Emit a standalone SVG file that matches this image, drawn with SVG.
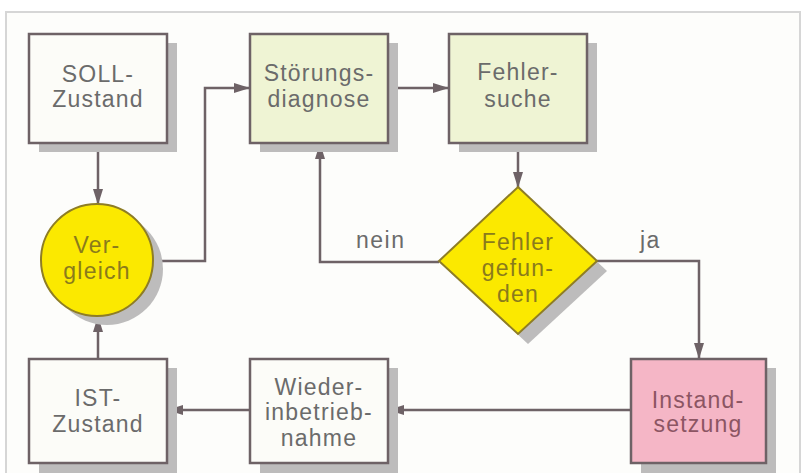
<svg xmlns="http://www.w3.org/2000/svg" width="808" height="473" viewBox="0 0 808 473">
<defs>
<marker id="ah" markerWidth="16" markerHeight="10" refX="15" refY="5" orient="auto" markerUnits="userSpaceOnUse">
<path d="M0,0 L16,5 L0,10 z" fill="#6e6266"/>
</marker>
</defs>
<style>
.sh{fill:#bdbcbc}
.box{stroke:#6e6266;stroke-width:2.5}
.w{fill:#fcfcf8}
.g{fill:#eff4d4}
.p{fill:#f5b6c6}
.y{fill:#fbe900;stroke:#8e7d25;stroke-width:2}
.t{font-family:"Liberation Sans",Arial,sans-serif;font-size:23px;letter-spacing:1.2px;text-anchor:middle;fill:#6b6b6b}
.ty{fill:#8a7b1c}
.tp{fill:#8c5563}
.lbl{font-family:"Liberation Sans",Arial,sans-serif;font-size:23px;letter-spacing:1.5px;fill:#6b6b6b}
.c{fill:none;stroke:#6e6266;stroke-width:2.5}
</style>
<rect x="0" y="0" width="808" height="473" fill="#ffffff"/>
<rect x="6" y="12" width="794" height="470" fill="#fdfdfb" stroke="#d6d6d6" stroke-width="2"/>

<g id="connectors">
<path class="c" d="M98,143 L98,204" marker-end="url(#ah)"/>
<path class="c" d="M98,359 L98,317" marker-end="url(#ah)"/>
<path class="c" d="M154,261 L205,261 L205,88 L249,88" marker-end="url(#ah)"/>
<path class="c" d="M388,88 L448,88" marker-end="url(#ah)"/>
<path class="c" d="M518,143 L518,187" marker-end="url(#ah)"/>
<path class="c" d="M439,262 L320,262 L320,144" marker-end="url(#ah)"/>
<path class="c" d="M597,261 L699,261 L699,358" marker-end="url(#ah)"/>
<path class="c" d="M631,410 L389,410" marker-end="url(#ah)"/>
<path class="c" d="M250,410 L168,410" marker-end="url(#ah)"/>
<text class="lbl" x="356" y="248">nein</text>
<text class="lbl" x="640" y="248">ja</text>
</g>

<g id="soll">
<rect class="sh" x="39" y="43" width="138" height="109"/>
<rect class="box w" x="29" y="34" width="138" height="109"/>
<text class="t" x="98" y="82">SOLL-</text>
<text class="t" x="98" y="107">Zustand</text>
</g>

<g id="stoerungsdiagnose">
<rect class="sh" x="260" y="43" width="138" height="109"/>
<rect class="box g" x="250" y="34" width="138" height="109"/>
<text class="t" x="319" y="81">Störungs-</text>
<text class="t" x="319" y="107">diagnose</text>
</g>

<g id="fehlersuche">
<rect class="sh" x="459" y="43" width="138" height="109"/>
<rect class="box g" x="449" y="34" width="138" height="109"/>
<text class="t" x="518" y="80">Fehler-</text>
<text class="t" x="518" y="107">suche</text>
</g>

<g id="vergleich">
<circle class="sh" cx="107" cy="269" r="56"/>
<circle class="y" cx="97" cy="260" r="56"/>
<text class="t ty" x="97" y="253">Ver-</text>
<text class="t ty" x="97" y="279">gleich</text>
</g>

<g id="fehler-gefunden">
<polygon class="sh" points="528,197 607,271 528,344 449,271"/>
<polygon class="y" points="518,187 597,261 518,334 439,261"/>
<text class="t ty" x="518" y="250">Fehler</text>
<text class="t ty" x="518" y="276">gefun-</text>
<text class="t ty" x="518" y="302">den</text>
</g>

<g id="ist">
<rect class="sh" x="39" y="368" width="138" height="105"/>
<rect class="box w" x="29" y="359" width="138" height="104"/>
<text class="t" x="98" y="406">IST-</text>
<text class="t" x="98" y="432">Zustand</text>
</g>

<g id="wiederinbetriebnahme">
<rect class="sh" x="260" y="368" width="138" height="105"/>
<rect class="box w" x="250" y="359" width="138" height="104"/>
<text class="t" x="319" y="395">Wieder-</text>
<text class="t" x="319" y="420">inbetrieb-</text>
<text class="t" x="319" y="446">nahme</text>
</g>

<g id="instandsetzung">
<rect class="sh" x="641" y="368" width="135" height="105"/>
<rect class="box p" x="631" y="359" width="135" height="104"/>
<text class="t tp" x="698" y="408">Instand-</text>
<text class="t tp" x="698" y="432">setzung</text>
</g>
</svg>
